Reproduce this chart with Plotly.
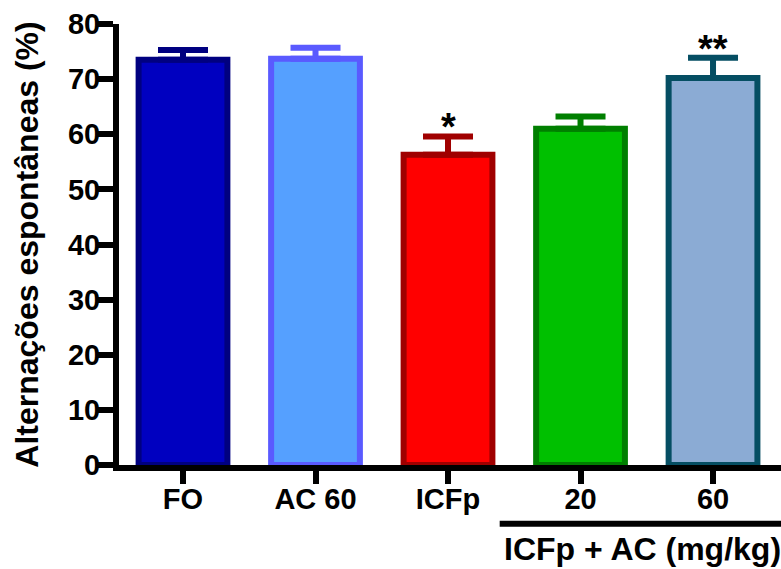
import plotly.graph_objects as go

categories = ["FO", "AC 60", "ICFp", "20", "60"]
means = [73.5, 73.7, 56.3, 61.0, 70.2]
sems = [1.8, 2.0, 3.3, 2.2, 3.7]
signif = ["", "", "*", "", "**"]
fill_colors = ["#0000C0", "#55A0FF", "#FF0000", "#00C000", "#8BABD4"]
line_colors = ["#000080", "#5A5AFF", "#A00000", "#007F00", "#054E63"]
y_ticks = [0, 10, 20, 30, 40, 50, 60, 70, 80]
group_label = "ICFp + AC (mg/kg)"
y_title = "Alternações espontâneas (%)"

FONT = "Liberation Sans, Arial, sans-serif"

fig = go.Figure()
for i, cat in enumerate(categories):
    fig.add_trace(go.Bar(
        x=[i], y=[means[i]], width=0.67,
        marker=dict(color=fill_colors[i], line=dict(color=line_colors[i], width=6)),
        error_y=dict(type="data", symmetric=False, array=[sems[i]], arrayminus=[0],
                     color=line_colors[i], thickness=6, width=25),
        showlegend=False, hoverinfo="skip",
    ))
    if signif[i]:
        fig.add_annotation(x=i, y=means[i] + sems[i], text=signif[i], showarrow=False,
                           xanchor="center", yanchor="bottom", yshift=-14,
                           font=dict(family=FONT, size=38, color="black", weight="bold"))

# group bracket under 20 and 60
fig.add_shape(type="line", xref="x", yref="paper", x0=2.39, x1=4.6, y0=-0.133, y1=-0.133,
              line=dict(color="black", width=6))
fig.add_annotation(x=3.47, xref="x", y=-0.19, yref="paper", text=group_label,
                   showarrow=False, xanchor="center", yanchor="middle",
                   font=dict(family=FONT, size=32, color="black", weight="bold"))

fig.update_layout(
    width=781, height=569,
    margin=dict(l=119, r=0, t=24, b=104),
    paper_bgcolor="white", plot_bgcolor="white",
    barmode="overlay",
    font=dict(family=FONT, color="black"),
    xaxis=dict(
        range=[-0.483, 4.513], tickmode="array", tickvals=list(range(len(categories))),
        ticktext=categories, showline=True, linecolor="black", linewidth=6,
        ticks="outside", ticklen=13, tickwidth=6, tickcolor="black",
        showgrid=False, zeroline=False, ticklabelstandoff=-10,
        tickfont=dict(family=FONT, size=29, color="black", weight="bold"),
    ),
    yaxis=dict(
        range=[0, 80], tickmode="array", tickvals=y_ticks,
        showline=True, linecolor="black", linewidth=6,
        ticks="outside", ticklen=15, tickwidth=6, tickcolor="black",
        showgrid=False, zeroline=False, ticklabelstandoff=-8,
        tickfont=dict(family=FONT, size=29, color="black", weight="bold"),
        title=dict(text=y_title, standoff=22,
                   font=dict(family=FONT, size=32, color="black", weight="bold")),
    ),
)

fig.write_html("out.html")
